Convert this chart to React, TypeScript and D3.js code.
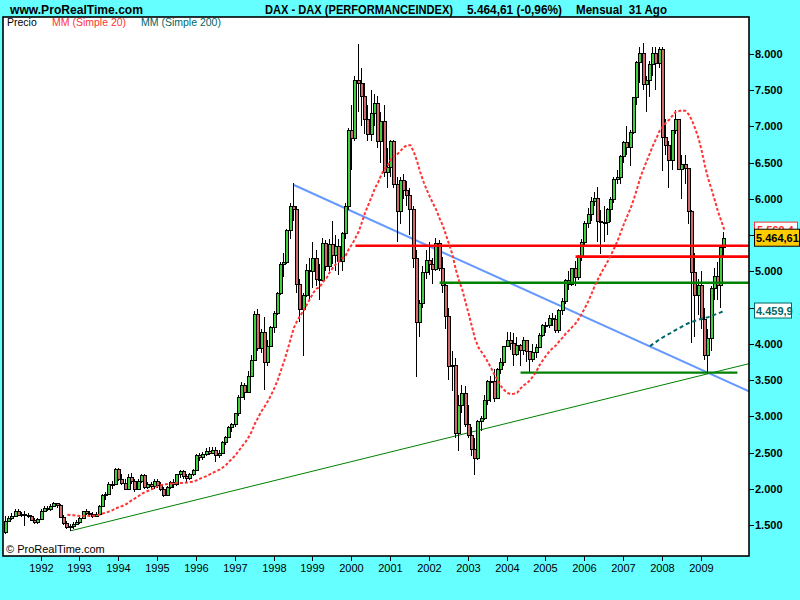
import React from "react";
import * as d3 from "d3";

// Monthly DAX candles, Feb 1991 .. Aug 2009 (open = previous close)
const firstOpen = 1400;

const closes = [
  // 1991 (Feb-Dec)
  1560, 1590, 1630, 1700, 1640, 1650, 1640, 1620, 1565, 1540, 1578,
  // 1992
  1700, 1730, 1720, 1760, 1800, 1780, 1610, 1530, 1475, 1480, 1520, 1545,
  // 1993
  1600, 1690, 1660, 1650, 1630, 1650, 1760, 1910, 1930, 2070, 2070, 2267,
  // 1994
  2130, 2080, 2000, 2160, 2110, 1990, 2110, 2190, 2030, 2060, 2040, 2107,
  // 1995
  2050, 2000, 1910, 2020, 2090, 2060, 2200, 2240, 2180, 2150, 2200, 2254,
  // 1996
  2460, 2440, 2480, 2520, 2500, 2540, 2460, 2500, 2650, 2720, 2850, 2889,
  // 1997
  3040, 3270, 3430, 3340, 3560, 3780, 4410, 3940, 4160, 3750, 3970, 4230,
  // 1998
  4430, 4700, 5100, 5130, 5570, 5900, 5860, 4830, 4480, 4670, 5020, 5002,
  // 1999
  5180, 4900, 4880, 5390, 5070, 5378, 5228, 5351, 5150, 5525, 5900, 6958,
  // 2000
  6835, 7644, 7599, 7414, 7109, 6898, 7191, 7326, 6798, 7077, 6372, 6434,
  // 2001
  6795, 6208, 5829, 6264, 6123, 6058, 5862, 5188, 4308, 4559, 4990, 5160,
  // 2002
  5108, 5039, 5397, 5041, 4818, 4383, 3700, 3713, 2769, 3153, 3320, 2893,
  // 2003
  2748, 2547, 2424, 2942, 2983, 3221, 3488, 3485, 3257, 3656, 3746, 3965,
  // 2004
  4059, 4018, 3857, 3985, 3921, 4053, 3896, 3785, 3893, 3960, 4126, 4256,
  // 2005
  4255, 4350, 4349, 4185, 4461, 4586, 4887, 4830, 5044, 4929, 5193, 5408,
  // 2006
  5674, 5796, 5970, 6010, 5693, 5683, 5682, 5860, 6004, 6269, 6309, 6597,
  // 2007
  6789, 6715, 6917, 7409, 7883, 8007, 7584, 7638, 7862, 8019, 7871, 8067,
  // 2008
  6852, 6748, 6535, 6949, 7097, 6418, 6480, 6422, 5831, 4988, 4669, 4810,
  // 2009 (Jan-Aug)
  4338, 3844, 4085, 4770, 4941, 4809, 5332, 5465,
];

const highs = [
  1620, 1630, 1670, 1720, 1725, 1680, 1690, 1670, 1640, 1600, 1590,
  1720, 1760, 1760, 1790, 1812, 1810, 1790, 1640, 1560, 1510, 1540, 1570,
  1610, 1700, 1720, 1690, 1680, 1680, 1770, 1930, 1960, 2090, 2110, 2280,
  2290, 2200, 2130, 2200, 2220, 2140, 2130, 2210, 2200, 2090, 2090, 2140,
  2130, 2100, 2020, 2040, 2110, 2130, 2210, 2260, 2260, 2200, 2220, 2270,
  2480, 2500, 2510, 2560, 2570, 2580, 2570, 2530, 2660, 2730, 2860, 2910,
  3050, 3290, 3470, 3460, 3620, 3850, 4460, 4480, 4200, 4370, 4050, 4250,
  4460, 4720, 5130, 5260, 5590, 5950, 6217, 5900, 4900, 4700, 5100, 5190,
  5400, 5300, 5100, 5460, 5440, 5450, 5690, 5500, 5450, 5550, 5950, 6980,
  7300, 7700, 8136, 7800, 7600, 7300, 7500, 7450, 7420, 7200, 7300, 6700,
  6820, 6820, 6300, 6300, 6350, 6250, 6150, 5900, 5300, 4600, 5070, 5300,
  5400, 5180, 5460, 5430, 5200, 4850, 4500, 3900, 3800, 3300, 3430, 3420,
  3150, 2850, 2700, 2950, 3000, 3300, 3500, 3550, 3650, 3660, 3800, 3970,
  4170, 4160, 4150, 4100, 4000, 4100, 4050, 3900, 4000, 4000, 4150, 4280,
  4300, 4400, 4420, 4400, 4480, 4630, 4900, 5000, 5050, 5150, 5220, 5450,
  5700, 5880, 6020, 6100, 6160, 5850, 5900, 5880, 6020, 6300, 6400, 6600,
  6800, 7000, 6950, 7410, 7900, 8100, 8151, 7700, 7900, 8100, 8100, 8100,
  8100, 7100, 6800, 6950, 7230, 7100, 6600, 6600, 6400, 5850, 5250, 4900,
  5000, 4500, 4200, 4800, 5050, 5130, 5340, 5550,
];

const lows = [
  1380, 1540, 1570, 1610, 1620, 1615, 1480, 1595, 1550, 1510, 1510,
  1570, 1690, 1690, 1700, 1750, 1740, 1590, 1500, 1440, 1420, 1440, 1500,
  1520, 1590, 1640, 1610, 1600, 1610, 1640, 1750, 1850, 1920, 1990, 2050,
  2110, 2050, 1990, 1990, 2070, 1960, 1980, 2080, 2000, 2000, 1990, 1990,
  2010, 1970, 1890, 1900, 1990, 2010, 2040, 2150, 2130, 2080, 2120, 2170,
  2250, 2390, 2400, 2450, 2460, 2480, 2370, 2430, 2490, 2600, 2700, 2790,
  2850, 3000, 3250, 3220, 3330, 3540, 3780, 3900, 3880, 3360, 3700, 3950,
  4150, 4400, 4680, 4920, 5100, 5450, 5700, 4700, 4300, 3830, 4650, 4600,
  4770, 4800, 4600, 4870, 5000, 5000, 5100, 5000, 4950, 5000, 5450, 5850,
  6400, 6800, 7200, 7000, 6900, 6800, 6800, 7000, 6700, 6500, 6300, 6150,
  6300, 6150, 5400, 5650, 6000, 5900, 5500, 5050, 3539, 4100, 4500, 4900,
  4950, 4820, 5000, 5000, 4700, 4200, 3500, 3350, 2700, 2520, 3050, 2850,
  2700, 2450, 2188, 2400, 2800, 2950, 3150, 3200, 3200, 3250, 3580, 3700,
  3950, 3920, 3690, 3830, 3700, 3850, 3750, 3618, 3750, 3800, 3950, 4100,
  4150, 4220, 4250, 4150, 4150, 4400, 4550, 4750, 4800, 4800, 4880, 5150,
  5350, 5600, 5700, 5900, 5400, 5243, 5400, 5500, 5686, 5950, 6200, 6200,
  6500, 6600, 6450, 6900, 7300, 7600, 7500, 7200, 7400, 7700, 7500, 7800,
  6384, 6600, 6150, 6400, 6900, 6400, 6000, 6200, 5650, 4014, 4100, 4400,
  4200, 3780, 3588, 3900, 4600, 4600, 4500, 5200,
];

const yearLabels = [1992, 1993, 1994, 1995, 1996, 1997, 1998, 1999, 2000, 2001, 2002, 2003, 2004, 2005, 2006, 2007, 2008, 2009];
const priceTicks = [1500, 2000, 2500, 3000, 3500, 4000, 4500, 5000, 5500, 6000, 6500, 7000, 7500, 8000];

// Drawn objects (month index from Feb 1991, price)
const redLevels = [
  { value: 5354, from: 108 },
  { value: 5203, from: 176 },
];
const greenLevels = [
  { value: 4844, from: 134, to: null as number | null },
  { value: 3602, from: 159, to: 226 },
];
const blueTrend = { i1: 89, v1: 6192, i2: 217, v2: 3600 };
const greenTrend = { i1: 20, v1: 1420, i2: 217, v2: 3588 };

const titleParts = [
  { text: "www.ProRealTime.com", x: 10, w: 133 },
  { text: "DAX - DAX (PERFORMANCEINDEX)", x: 265, w: 188 },
  { text: "5.464,61 (-0,96%)", x: 467, w: 95 },
  { text: "Mensual  31 Ago", x: 576, w: 91 },
];

const lastPriceLabel = "5.464,61";
const lastPrice = 5464.61;
const sma20Label = "5.569,4";
const sma20Value = 5569.4;
const sma200Label = "4.459,9";
const sma200Value = 4459.9;

const PL = 3, PT = 17, PR = 749, PB = 556;
const UP = "#3fd03f";
const DOWN = "#d06a6a";
const MA20 = "#ff3333";
const MA200 = "#006666";
const BG = "#66ffff";

const fmtLocale = d3.formatLocale({ decimal: ",", thousands: ".", grouping: [3], currency: ["", ""] });
const fmtThousands = fmtLocale.format(",");

function sma(values: number[], n: number) {
  const out: { i: number; v: number }[] = [];
  for (let i = n - 1; i < values.length; i++) {
    out.push({ i, v: d3.mean(values.slice(i - n + 1, i + 1)) as number });
  }
  return out;
}

export default function App() {
  const x = d3.scaleLinear().domain([0, 222]).range([5.9, 5.9 + 222 * 3.2367]);
  const y = d3.scaleLinear().domain([1500, 8000]).range([525, 54]);

  const candles = closes.map((c, i) => ({
    i,
    o: i === 0 ? firstOpen : closes[i - 1],
    h: highs[i],
    l: lows[i],
    c,
  }));

  const ma20 = sma(closes, 20);
  const ma200 = sma(closes, 200);
  const line = d3
    .line<{ i: number; v: number }>()
    .x((d) => x(d.i))
    .y((d) => y(d.v));

  const iEnd = x.invert(PR);
  const trendPts = (t: { i1: number; v1: number; i2: number; v2: number }) => {
    const slope = (t.v2 - t.v1) / (t.i2 - t.i1);
    return { x1: x(t.i1), y1: y(t.v1), x2: x(iEnd), y2: y(t.v1 + slope * (iEnd - t.i1)) };
  };
  const bt = trendPts(blueTrend);
  const gt = trendPts(greenTrend);

  const janIndex = (yr: number) => (yr - 1991) * 12 - 1;

  const yM20 = y(sma20Value);
  const yLast = y(lastPrice);
  const yM200 = y(sma200Value);

  return (
    <div style={{ position: "fixed", left: 0, top: 0, width: 800, height: 600 }}>
      <svg width={800} height={600} style={{ display: "block" }} fontFamily="'Liberation Sans', Arial, sans-serif">
        <defs>
          <clipPath id="plotClip">
            <rect x={PL} y={PT} width={PR - PL} height={PB - PT} />
          </clipPath>
          <clipPath id="m20Clip">
            <rect x={750} y={yM20 - 9} width={50} height={yLast - 8.5 - (yM20 - 9)} />
          </clipPath>
        </defs>
        <rect x={0} y={0} width={800} height={600} fill={BG} />
        <rect x={PL} y={PT} width={PR - PL} height={PB - PT} fill="#ffffff" />

        {/* Title bar */}
        {titleParts.map((t) => (
          <text
            key={t.text}
            x={t.x}
            y={14}
            fontSize={12.5}
            fontWeight="bold"
            fill="#000"
            textLength={t.w}
            lengthAdjust="spacingAndGlyphs"
            style={{ whiteSpace: "pre" }}
          >
            {t.text}
          </text>
        ))}

        <g clipPath="url(#plotClip)">
          {/* thin green support trend */}
          <line x1={gt.x1} y1={gt.y1} x2={gt.x2} y2={gt.y2} stroke="#008000" strokeWidth={1} />
          {/* blue resistance trend */}
          <line x1={bt.x1} y1={bt.y1} x2={bt.x2} y2={bt.y2} stroke="#6699ff" strokeWidth={2} />

          {/* candles */}
          <g shapeRendering="crispEdges">
            {candles.map((d) => {
              const cx = Math.round(x(d.i));
              const top = Math.round(y(Math.max(d.o, d.c)));
              const bot = Math.round(y(Math.min(d.o, d.c)));
              return (
                <g key={d.i}>
                  <line x1={cx - 0.5} x2={cx - 0.5} y1={y(d.h)} y2={y(d.l)} stroke="#000" strokeWidth={1} />
                  <rect
                    x={cx - 1.5}
                    y={top + 0.5}
                    width={3}
                    height={Math.max(1, bot - top)}
                    fill={d.c >= d.o ? UP : DOWN}
                    stroke="#000"
                    strokeWidth={1}
                  />
                </g>
              );
            })}
          </g>

          {/* horizontal levels */}
          {redLevels.map((l, k) => (
            <line key={"r" + k} x1={x(l.from)} x2={PR} y1={y(l.value)} y2={y(l.value)} stroke="#ff0000" strokeWidth={2.6} />
          ))}
          {greenLevels.map((l, k) => (
            <line
              key={"g" + k}
              x1={x(l.from)}
              x2={l.to == null ? PR : x(l.to)}
              y1={y(l.value)}
              y2={y(l.value)}
              stroke="#008000"
              strokeWidth={k === 0 ? 2.6 : 2.2}
            />
          ))}

          {/* moving averages */}
          <path d={line(ma20) || ""} fill="none" stroke={MA20} strokeWidth={2} strokeDasharray="3,2" />
          <path d={line(ma200) || ""} fill="none" stroke={MA200} strokeWidth={2} strokeDasharray="4,3" />
        </g>

        {/* legend */}
        <text x={7} y={26} fontSize={10.5} fill="#000">Precio</text>
        <text x={52} y={26} fontSize={10.5} fill={MA20}>MM (Simple 20)</text>
        <text x={141} y={26} fontSize={10.5} fill={MA200}>MM (Simple 200)</text>

        <text x={6} y={553} fontSize={11} fill="#000">© ProRealTime.com</text>

        {/* plot frame */}
        <rect x={PL} y={PT} width={PR - PL} height={PB - PT} fill="none" stroke="#000" strokeWidth={1.6} />

        {/* x axis */}
        {yearLabels.map((yr) => {
          const tx = Math.round(x(janIndex(yr))) - 0.5;
          return (
            <g key={yr}>
              <line x1={tx} x2={tx} y1={PB} y2={PB + 5} stroke="#000" strokeWidth={1} />
              <text x={tx} y={572} fontSize={11} textAnchor="middle" fill="#000">{yr}</text>
            </g>
          );
        })}

        {/* y axis (labels hidden under value boxes are skipped) */}
        {priceTicks.map((p) => {
          const yy = y(p);
          const covered = Math.abs(yy - yM20) < 12 || Math.abs(yy - yLast) < 12 || Math.abs(yy - yM200) < 10;
          return (
            <g key={p}>
              <line x1={PR} x2={PR + 5} y1={Math.round(yy) + 0.5} y2={Math.round(yy) + 0.5} stroke="#000" strokeWidth={1} />
              {!covered && (
                <text x={755} y={yy + 4} fontSize={11} fontWeight="bold" fill="#000">{fmtThousands(p)}</text>
              )}
            </g>
          );
        })}

        {/* value boxes */}
        <rect x={754.5} y={yM20 - 8} width={43} height={16} fill="#fff" stroke="#ff3333" strokeWidth={1} />
        <text x={757} y={yM20 + 4} fontSize={11} fontWeight="bold" fill="#ff3333" clipPath="url(#m20Clip)">{sma20Label}</text>
        <rect x={754.5} y={yLast - 8.5} width={45} height={17} fill="#ffcc00" stroke="#000" strokeWidth={1} />
        <text x={756} y={yLast + 4} fontSize={11} fontWeight="bold" fill="#000">{lastPriceLabel}</text>
        <rect x={754.5} y={yM200 - 7.5} width={37} height={15} fill="#fff" stroke={MA200} strokeWidth={1} />
        <text x={756} y={yM200 + 4} fontSize={11} fontWeight="bold" fill={MA200}>{sma200Label}</text>
      </svg>
    </div>
  );
}
